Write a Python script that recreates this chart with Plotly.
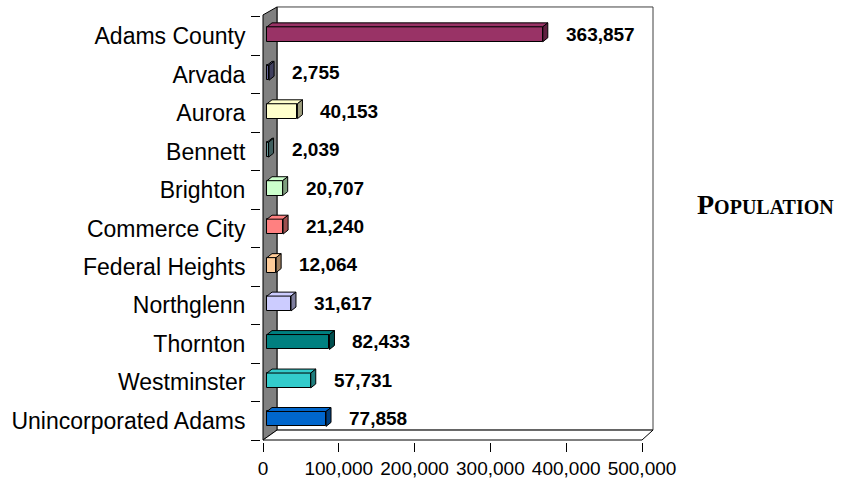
import plotly.graph_objects as go

# ---------------- data ----------------
categories = ["Adams County", "Arvada", "Aurora", "Bennett", "Brighton",
              "Commerce City", "Federal Heights", "Northglenn", "Thornton",
              "Westminster", "Unincorporated Adams"]
population = [363857, 2755, 40153, 2039, 20707, 21240, 12064, 31617,
              82433, 57731, 77858]
bar_colors = ["#993366", "#666699", "#FFFFCC", "#669999", "#CCFFCC",
              "#FF8080", "#FFCC99", "#CCCCFF", "#008080", "#33CCCC", "#0066CC"]
x_tick_values = [0, 100000, 200000, 300000, 400000, 500000]
x_tick_labels = ["0", "100,000", "200,000", "300,000", "400,000", "500,000"]
series_name = "Population"   # shown in small caps

# ---------------- layout geometry (pixels) ----------------
W, H = 841, 483
PLOT_L, PLOT_R, PLOT_T, PLOT_B = 261, 656, 4, 445
ZERO_PX, MAX_PX = 263, 642          # front-axis pixel of 0 and 500,000
CAT_TOP, CAT_BOT = 17, 443          # first / last category boundary
AXIS_MAX = 500000
n = len(categories)

ux = (MAX_PX - ZERO_PX) / AXIS_MAX       # px per unit
band = (CAT_BOT - CAT_TOP) / n           # px per category


def X(px):
    return (px - ZERO_PX) / ux


def Y(py):
    return (py - CAT_TOP) / band - 0.5


def dX(px):
    return px / ux


def dY(py):
    return py / band


def darken(hx, f=0.62):
    hx = hx.lstrip("#")
    r, g, b = (int(hx[i:i + 2], 16) for i in (0, 2, 4))
    return "#%02x%02x%02x" % (int(r * f), int(g * f), int(b * f))


FONT = "Liberation Sans, Arial, sans-serif"

fig = go.Figure()

# ---------------- bars (front faces) ----------------
idx = list(range(n))
base_val = dX(4)
bar_w = dY(15)
bar_off = Y(27) - Y(CAT_TOP + band / 2)  # offset relative to band centre
fig.add_trace(go.Bar(
    x=population, y=idx, base=base_val, orientation="h",
    width=bar_w, offset=bar_off,
    marker=dict(color=bar_colors, line=dict(color="black", width=1)),
    hoverinfo="skip", showlegend=False,
))

# ---------------- 3D faces ----------------
ddx, ddy = dX(5), dY(4)
for i, (v, c) in enumerate(zip(population, bar_colors)):
    x0 = base_val
    x1 = base_val + v
    yt = i + bar_off
    yb = yt + bar_w
    fig.add_trace(go.Scatter(
        x=[x0, x1, x1 + ddx, x0 + ddx, x0],
        y=[yt, yt, yt - ddy, yt - ddy, yt],
        mode="lines", fill="toself", fillcolor=c,
        line=dict(color="black", width=1),
        hoverinfo="skip", showlegend=False,
    ))
    fig.add_trace(go.Scatter(
        x=[x1, x1 + ddx, x1 + ddx, x1, x1],
        y=[yt, yt - ddy, yb - ddy, yb, yt],
        mode="lines", fill="toself", fillcolor=darken(c),
        line=dict(color="black", width=1),
        hoverinfo="skip", showlegend=False,
    ))

# ---------------- walls / floor ----------------
def path(pts):
    return "M " + " L ".join(f"{X(a)},{Y(b)}" for a, b in pts) + " Z"


shapes = [
    dict(type="path", path=path([(277, 7), (653, 7), (653, 433), (277, 433)]),
         xref="x", yref="y", fillcolor="white",
         line=dict(color="#404040", width=1), layer="below"),
    dict(type="path", path=path([(263, 15), (277, 7), (277, 433), (263, 443)]),
         xref="x", yref="y", fillcolor="#808080",
         line=dict(color="black", width=1), layer="below"),
    dict(type="path", path=path([(263, 443), (277, 433), (653, 433), (642, 443)]),
         xref="x", yref="y", fillcolor="white",
         line=dict(color="black", width=1), layer="below"),
]

# ---------------- value labels ----------------
annotations = []
for i, v in enumerate(population):
    annotations.append(dict(
        x=v, y=i, xref="x", yref="y", text=f"{v:,}", showarrow=False,
        xanchor="left", yanchor="middle", xshift=25, yshift=2,
        font=dict(family=FONT, size=19, color="black", weight="bold"),
    ))

annotations.append(dict(
    x=(765 - PLOT_L) / (PLOT_R - PLOT_L), y=(PLOT_B - 206) / (PLOT_B - PLOT_T),
    xref="paper", yref="paper", text=series_name, showarrow=False,
    xanchor="center", yanchor="middle",
    font=dict(family="Liberation Serif, Times New Roman, serif", size=28,
              color="black", weight="bold", variant="small-caps"),
))

fig.update_layout(
    width=W, height=H,
    margin=dict(l=PLOT_L, r=W - PLOT_R, t=PLOT_T, b=H - PLOT_B, pad=0),
    paper_bgcolor="white", plot_bgcolor="rgba(0,0,0,0)",
    showlegend=False, bargap=0,
    shapes=shapes, annotations=annotations,
    xaxis=dict(
        range=[X(PLOT_L), X(PLOT_R)], tickmode="array",
        tickvals=x_tick_values, ticktext=x_tick_labels,
        ticks="outside", ticklen=9, tickcolor="black", tickwidth=1,
        showgrid=False, zeroline=False, showline=False,
        tickfont=dict(family=FONT, size=19, color="black"),
    ),
    yaxis=dict(
        range=[Y(PLOT_B), Y(PLOT_T)], tickmode="array",
        tickvals=idx, ticktext=categories,
        ticks="outside", ticklen=10, tickcolor="rgba(0,0,0,0)",
        minor=dict(tickmode="array", tickvals=[k - 0.5 for k in range(n + 1)],
                   ticks="outside", ticklen=9, tickcolor="black", tickwidth=1,
                   showgrid=False),
        showgrid=False, zeroline=False, showline=False,
        tickfont=dict(family=FONT, size=23, color="black"),
    ),
)

fig.write_html("out.html")
